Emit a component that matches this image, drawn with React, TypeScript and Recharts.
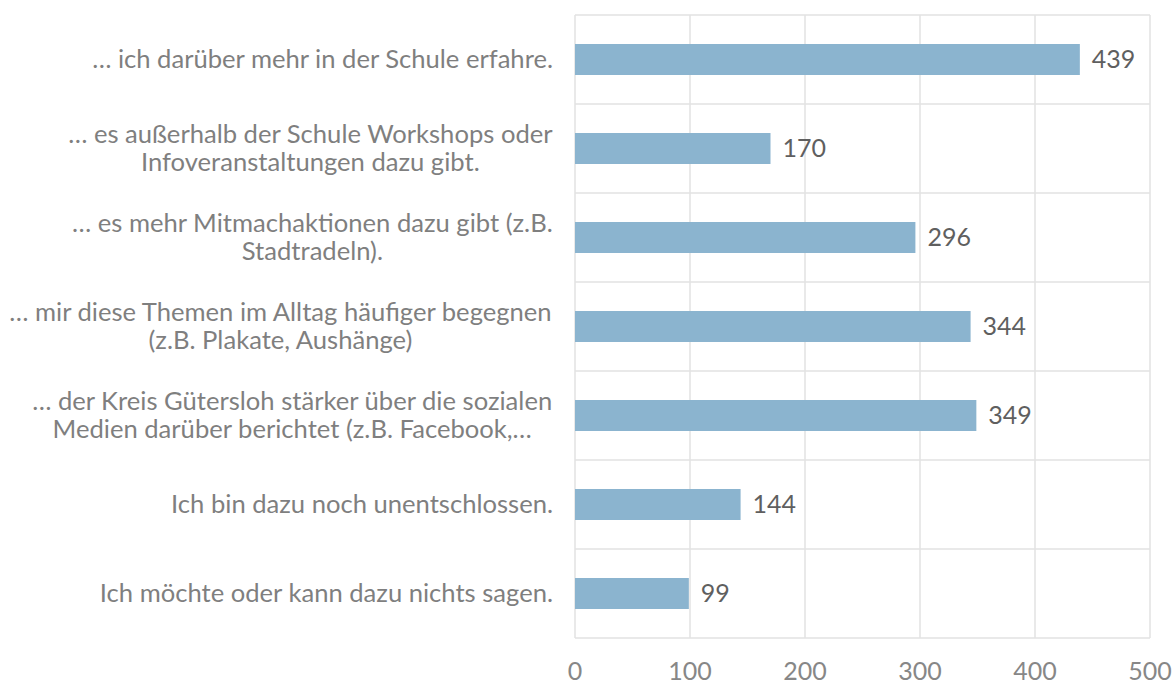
import React from 'react';
import { BarChart, Bar, XAxis, YAxis, CartesianGrid, LabelList } from 'recharts';

const categories = [
  '… ich darüber mehr in der Schule erfahre.',
  '… es außerhalb der Schule Workshops oder\nInfoveranstaltungen dazu gibt.',
  '… es mehr Mitmachaktionen dazu gibt (z.B.\nStadtradeln).',
  '… mir diese Themen im Alltag häufiger begegnen\n(z.B. Plakate, Aushänge)',
  '… der Kreis Gütersloh stärker über die sozialen\nMedien darüber berichtet (z.B. Facebook,…',
  'Ich bin dazu noch unentschlossen.',
  'Ich möchte oder kann dazu nichts sagen.',
];
const values = [439, 170, 296, 344, 349, 144, 99];
const xTicks = [0, 100, 200, 300, 400, 500];

const data = categories.map((label, i) => ({ label, value: values[i] }));

const FONT = 'Lato, "Noto Sans", sans-serif';
const CAT_SIZE = 25.6;

let ctx: CanvasRenderingContext2D | null = null;
function textWidth(s: string) {
  if (!ctx) ctx = document.createElement('canvas').getContext('2d');
  if (!ctx) return s.length * CAT_SIZE * 0.5;
  ctx.font = `${CAT_SIZE}px Lato`;
  return ctx.measureText(s).width;
}

// multi-line labels: block right-aligned to the axis, lines centred inside it
function CategoryTick(props: any) {
  const { x, y, payload } = props;
  const lines: string[] = String(payload.value).split('\n');
  const right = x - 14;
  const lineH = 28;
  const maxW = Math.max(...lines.map(textWidth));
  const startY = y - ((lines.length - 1) * lineH) / 2;
  return (
    <g>
      {lines.map((l, i) => (
        <text
          key={i}
          x={lines.length > 1 ? right - maxW / 2 : right}
          y={startY + i * lineH}
          dy="0.35em"
          textAnchor={lines.length > 1 ? 'middle' : 'end'}
          fontSize={CAT_SIZE}
          fontFamily={FONT}
          fill="#7f7f7f"
        >
          {l}
        </text>
      ))}
    </g>
  );
}

export default function App() {
  return (
    <div style={{ position: 'absolute', left: 0, top: 0, background: '#fff' }}>
      <BarChart
        width={1176}
        height={684}
        data={data}
        layout="vertical"
        margin={{ top: 15, right: 26, bottom: 0, left: 0 }}
      >
        <CartesianGrid
          stroke="#e2e2e2"
          strokeWidth={1.5}
          horizontalCoordinatesGenerator={({ offset }: any) =>
            categories.concat(['']).map((_, i) => offset.top + (i * offset.height) / categories.length)
          }
        />
        <XAxis
          type="number"
          domain={[0, 500]}
          ticks={xTicks}
          axisLine={false}
          tickLine={false}
          height={46}
          tickMargin={18}
          tick={{ fontSize: 25, fill: '#878787', fontFamily: FONT }}
        />
        <YAxis
          type="category"
          dataKey="label"
          width={575}
          axisLine={false}
          tickLine={false}
          interval={0}
          tick={<CategoryTick />}
        />
        <Bar dataKey="value" fill="#8bb4cf" barSize={31} isAnimationActive={false}>
          <LabelList
            dataKey="value"
            position="right"
            offset={12}
            fill="#5f5f5f"
            fontSize={25}
            fontFamily={FONT}
          />
        </Bar>
      </BarChart>
    </div>
  );
}
